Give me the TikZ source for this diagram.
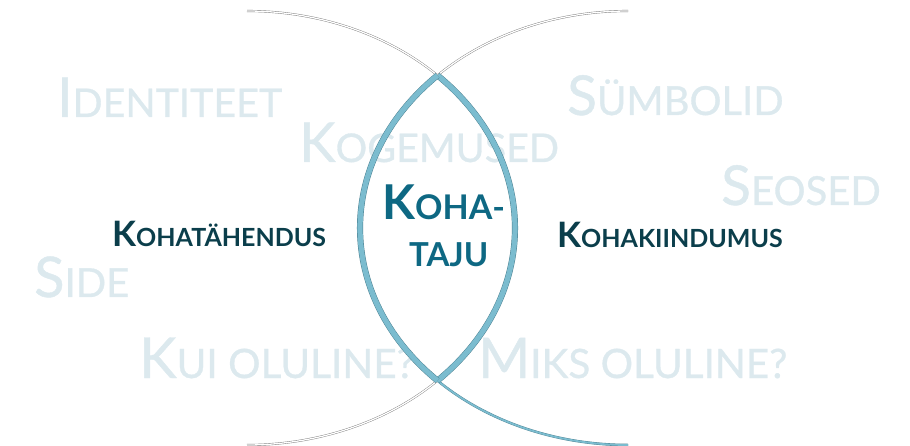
\documentclass[tikz,border=0pt]{standalone}
\usepackage{fontspec}
\setmainfont{Lato}
\newfontfamily\palefont[FakeBold=0.8]{Lato}
\definecolor{pale}{HTML}{DCE9EE}
\definecolor{darklbl}{HTML}{0B3E4B}
\definecolor{centre}{HTML}{0E6883}
\definecolor{lensblue}{HTML}{7BBCCF}
\definecolor{lensedge}{HTML}{4A7F8F}
\definecolor{tailgrey}{HTML}{7A7A7A}
\newcommand\fakesc[4]{{\fontsize{#1}{#1}\selectfont #3}{\fontsize{#2}{#2}\selectfont #4}}
\tikzset{
  paleword/.style={anchor=base west, inner sep=0pt, text=pale, font=\palefont},
  darkword/.style={anchor=base west, inner sep=0pt, text=darklbl, font=\bfseries},
  centreword/.style={anchor=base west, inner sep=0pt, text=centre, font=\bfseries},
  tail/.style={draw=tailgrey, line width=0.4pt, double=white, double distance=1.3pt},
  lens/.style={draw=lensedge, line width=0.45pt, double=lensblue, double distance=5.2pt},
  bluetail/.style={draw=lensedge, line width=0.35pt, double=lensblue, double distance=1.8pt},
}
\begin{document}
\begin{tikzpicture}[x=1pt,y=1pt]
\useasboundingbox (0,0) rectangle (910,-446);
% pale background words
\node[paleword] (identiteet) at (57,-117) {\fakesc{55}{39.5}{I}{DENTITEET}};
\node[paleword] (kogemused) at (299,-162) {\fakesc{55}{39.5}{K}{OGEMUSED}};
\node[paleword] (symbolid) at (567,-115) {\fakesc{55}{40}{S}{ÜMBOLID}};
\node[paleword] (seosed) at (721,-205) {\fakesc{55}{40}{S}{EOSED}};
\node[paleword] (side) at (34,-297) {\fakesc{56}{40}{S}{IDE}};
\node[paleword] (kui) at (139,-378) {\fakesc{56.5}{40.5}{K}{UI OLULINE?}};
\node[paleword] (miks) at (478,-378) {\fakesc{56}{40.5}{M}{IKS OLULINE?}};
% ellipse arcs
\coordinate (lc) at (247,-228);
\coordinate (rc) at (628,-228);
\draw[tail] ([shift={(90:268 and 217)}]lc) arc[start angle=90, end angle=44.7, x radius=268, y radius=217];
\draw[tail] ([shift={(-44.7:268 and 217)}]lc) arc[start angle=-44.7, end angle=-90, x radius=268, y radius=217];
\draw[tail] ([shift={(90:268 and 217)}]rc) arc[start angle=90, end angle=135.3, x radius=268, y radius=217];
\draw[bluetail] ([shift={(224.7:268 and 217)}]rc) arc[start angle=224.7, end angle=270, x radius=268, y radius=217];
\draw[lens] ([shift={(44.7:268 and 217)}]lc) arc[start angle=44.7, end angle=-44.7, x radius=268, y radius=217];
\draw[lens] ([shift={(135.3:268 and 217)}]rc) arc[start angle=135.3, end angle=224.7, x radius=268, y radius=217];
% labels
\node[darkword] (tahendus) at (112,-247) {\fakesc{35}{25}{K}{OHATÄHENDUS}};
\node[darkword] (kiindumus) at (557,-248) {\fakesc{35}{25}{K}{OHAKIINDUMUS}};
\node[centreword] (koha) at (382,-220) {\fakesc{48}{34}{K}{OHA-}};
\node[centreword] (taju) at (409,-267) {\fakesc{33}{33}{}{TAJU}};
\end{tikzpicture}
\end{document}
